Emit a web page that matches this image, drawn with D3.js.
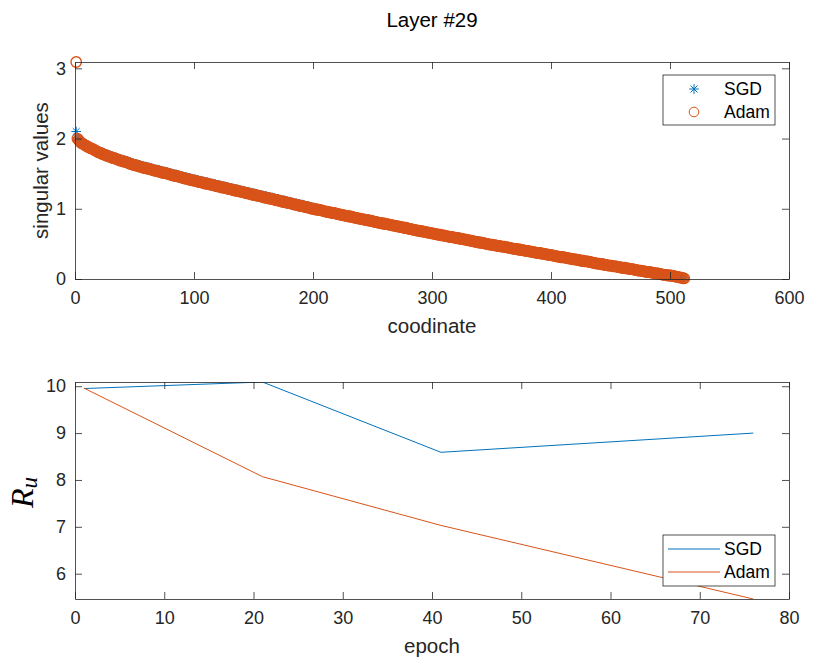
<!DOCTYPE html>
<html>
<head>
<meta charset="utf-8">
<script src="https://cdn.jsdelivr.net/npm/d3@7"></script>
<style>
  body { margin: 0; background: #fff; }
  text { font-family: "Liberation Sans", Arial, Helvetica, sans-serif; }
</style>
</head>
<body>
<script>
// ---- data ----
// singular values per coordinate 1..512
var sgdSv = [
  2.10,2.01,1.99,1.97,1.95,1.94,1.93,1.92,1.91,1.90,
  1.89,1.88,1.87,1.87,1.86,1.85,1.84,1.83,1.82,1.82,
  1.82,1.81,1.80,1.79,1.79,1.78,1.77,1.77,1.76,1.76,
  1.75,1.74,1.74,1.73,1.73,1.72,1.71,1.71,1.70,1.70,
  1.69,1.69,1.68,1.68,1.67,1.66,1.66,1.65,1.65,1.64,
  1.64,1.63,1.63,1.62,1.62,1.61,1.61,1.60,1.60,1.60,
  1.59,1.59,1.58,1.58,1.57,1.57,1.56,1.56,1.56,1.55,
  1.55,1.54,1.54,1.53,1.53,1.53,1.52,1.52,1.51,1.51,
  1.50,1.50,1.49,1.49,1.49,1.48,1.48,1.47,1.47,1.46,
  1.46,1.45,1.45,1.45,1.44,1.44,1.43,1.43,1.42,1.42,
  1.42,1.41,1.41,1.40,1.40,1.40,1.39,1.39,1.38,1.38,
  1.38,1.37,1.37,1.36,1.36,1.36,1.35,1.35,1.34,1.34,
  1.34,1.33,1.33,1.32,1.32,1.32,1.31,1.31,1.30,1.30,
  1.30,1.29,1.29,1.28,1.28,1.28,1.27,1.27,1.26,1.26,
  1.26,1.25,1.25,1.24,1.24,1.24,1.23,1.23,1.22,1.22,
  1.22,1.21,1.21,1.20,1.20,1.20,1.19,1.19,1.18,1.18,
  1.18,1.17,1.17,1.16,1.16,1.16,1.15,1.15,1.14,1.14,
  1.14,1.13,1.13,1.12,1.12,1.12,1.11,1.11,1.10,1.10,
  1.10,1.09,1.09,1.08,1.08,1.08,1.07,1.07,1.06,1.06,
  1.06,1.05,1.05,1.04,1.04,1.04,1.03,1.03,1.02,1.02,
  1.01,1.00,1.00,1.00,0.99,0.99,0.99,0.98,0.98,0.97,
  0.97,0.97,0.96,0.96,0.96,0.95,0.95,0.95,0.94,0.94,
  0.93,0.93,0.93,0.92,0.92,0.92,0.91,0.91,0.91,0.90,
  0.90,0.90,0.89,0.89,0.88,0.88,0.88,0.87,0.87,0.87,
  0.86,0.86,0.86,0.85,0.85,0.85,0.84,0.84,0.84,0.83,
  0.83,0.82,0.82,0.82,0.81,0.81,0.81,0.80,0.80,0.80,
  0.79,0.79,0.79,0.78,0.78,0.78,0.77,0.77,0.77,0.76,
  0.76,0.76,0.75,0.75,0.75,0.74,0.74,0.74,0.73,0.73,
  0.72,0.72,0.72,0.71,0.71,0.71,0.70,0.70,0.70,0.69,
  0.69,0.69,0.68,0.68,0.68,0.67,0.67,0.67,0.66,0.66,
  0.66,0.65,0.65,0.65,0.64,0.64,0.64,0.63,0.63,0.63,
  0.62,0.62,0.62,0.61,0.61,0.61,0.61,0.60,0.60,0.60,
  0.59,0.59,0.59,0.58,0.58,0.58,0.57,0.57,0.57,0.56,
  0.56,0.56,0.55,0.55,0.55,0.54,0.54,0.54,0.53,0.53,
  0.53,0.52,0.52,0.52,0.51,0.51,0.51,0.50,0.50,0.50,
  0.50,0.49,0.49,0.49,0.48,0.48,0.48,0.47,0.47,0.47,
  0.47,0.46,0.46,0.46,0.45,0.45,0.45,0.44,0.44,0.44,
  0.44,0.43,0.43,0.43,0.42,0.42,0.42,0.41,0.41,0.41,
  0.41,0.40,0.40,0.40,0.39,0.39,0.39,0.38,0.38,0.38,
  0.38,0.37,0.37,0.37,0.36,0.36,0.36,0.35,0.35,0.35,
  0.35,0.34,0.34,0.34,0.33,0.33,0.33,0.32,0.32,0.32,
  0.32,0.31,0.31,0.31,0.30,0.30,0.30,0.29,0.29,0.29,
  0.29,0.28,0.28,0.28,0.27,0.27,0.27,0.26,0.26,0.26,
  0.26,0.25,0.25,0.25,0.24,0.24,0.24,0.23,0.23,0.23,
  0.23,0.22,0.22,0.22,0.21,0.21,0.21,0.20,0.20,0.20,
  0.20,0.19,0.19,0.19,0.19,0.18,0.18,0.18,0.17,0.17,
  0.17,0.17,0.16,0.16,0.16,0.15,0.15,0.15,0.15,0.14,
  0.14,0.14,0.13,0.13,0.13,0.13,0.12,0.12,0.12,0.11,
  0.11,0.11,0.11,0.10,0.10,0.10,0.09,0.09,0.09,0.09,
  0.08,0.08,0.08,0.07,0.07,0.07,0.07,0.06,0.06,0.06,
  0.06,0.05,0.05,0.05,0.04,0.04,0.04,0.03,0.03,0.03,0.02,0.02
];
var adamSv = [
  3.09,2.00,1.98,1.96,1.94,1.93,1.92,1.91,1.90,1.89,
  1.88,1.87,1.86,1.86,1.85,1.84,1.83,1.82,1.81,1.80,
  1.80,1.79,1.78,1.77,1.77,1.76,1.75,1.75,1.74,1.74,
  1.73,1.72,1.72,1.71,1.71,1.70,1.69,1.69,1.68,1.68,
  1.67,1.67,1.66,1.66,1.65,1.64,1.64,1.63,1.63,1.62,
  1.62,1.61,1.61,1.60,1.60,1.59,1.59,1.58,1.58,1.58,
  1.57,1.57,1.56,1.56,1.55,1.55,1.54,1.54,1.54,1.53,
  1.53,1.52,1.52,1.51,1.51,1.51,1.50,1.50,1.49,1.49,
  1.48,1.48,1.47,1.47,1.47,1.46,1.46,1.45,1.45,1.44,
  1.44,1.43,1.43,1.43,1.42,1.42,1.41,1.41,1.40,1.40,
  1.40,1.39,1.39,1.38,1.38,1.38,1.37,1.37,1.36,1.36,
  1.36,1.35,1.35,1.34,1.34,1.34,1.33,1.33,1.32,1.32,
  1.32,1.31,1.31,1.30,1.30,1.30,1.29,1.29,1.28,1.28,
  1.28,1.27,1.27,1.26,1.26,1.26,1.25,1.25,1.24,1.24,
  1.24,1.23,1.23,1.22,1.22,1.22,1.21,1.21,1.20,1.20,
  1.20,1.19,1.19,1.18,1.18,1.18,1.17,1.17,1.16,1.16,
  1.16,1.15,1.15,1.14,1.14,1.14,1.13,1.13,1.12,1.12,
  1.12,1.11,1.11,1.10,1.10,1.10,1.09,1.09,1.08,1.08,
  1.08,1.07,1.07,1.06,1.06,1.06,1.05,1.05,1.04,1.04,
  1.04,1.03,1.03,1.02,1.02,1.02,1.01,1.01,1.00,1.00,
  1.00,0.99,0.99,0.99,0.98,0.98,0.98,0.97,0.97,0.96,
  0.96,0.96,0.95,0.95,0.95,0.94,0.94,0.94,0.93,0.93,
  0.92,0.92,0.92,0.91,0.91,0.91,0.90,0.90,0.90,0.89,
  0.89,0.89,0.88,0.88,0.87,0.87,0.87,0.86,0.86,0.86,
  0.85,0.85,0.85,0.84,0.84,0.84,0.83,0.83,0.83,0.82,
  0.82,0.81,0.81,0.81,0.80,0.80,0.80,0.79,0.79,0.79,
  0.78,0.78,0.78,0.77,0.77,0.77,0.76,0.76,0.76,0.75,
  0.75,0.75,0.74,0.74,0.74,0.73,0.73,0.73,0.72,0.72,
  0.71,0.71,0.71,0.70,0.70,0.70,0.69,0.69,0.69,0.68,
  0.68,0.68,0.67,0.67,0.67,0.66,0.66,0.66,0.65,0.65,
  0.65,0.64,0.64,0.64,0.63,0.63,0.63,0.62,0.62,0.62,
  0.61,0.61,0.61,0.60,0.60,0.60,0.60,0.59,0.59,0.59,
  0.58,0.58,0.58,0.57,0.57,0.57,0.56,0.56,0.56,0.55,
  0.55,0.55,0.54,0.54,0.54,0.53,0.53,0.53,0.52,0.52,
  0.52,0.51,0.51,0.51,0.50,0.50,0.50,0.49,0.49,0.49,
  0.49,0.48,0.48,0.48,0.47,0.47,0.47,0.46,0.46,0.46,
  0.46,0.45,0.45,0.45,0.44,0.44,0.44,0.43,0.43,0.43,
  0.43,0.42,0.42,0.42,0.41,0.41,0.41,0.40,0.40,0.40,
  0.40,0.39,0.39,0.39,0.38,0.38,0.38,0.37,0.37,0.37,
  0.37,0.36,0.36,0.36,0.35,0.35,0.35,0.34,0.34,0.34,
  0.34,0.33,0.33,0.33,0.32,0.32,0.32,0.31,0.31,0.31,
  0.31,0.30,0.30,0.30,0.29,0.29,0.29,0.28,0.28,0.28,
  0.28,0.27,0.27,0.27,0.26,0.26,0.26,0.25,0.25,0.25,
  0.25,0.24,0.24,0.24,0.23,0.23,0.23,0.22,0.22,0.22,
  0.22,0.21,0.21,0.21,0.20,0.20,0.20,0.19,0.19,0.19,
  0.19,0.18,0.18,0.18,0.18,0.17,0.17,0.17,0.16,0.16,
  0.16,0.16,0.15,0.15,0.15,0.14,0.14,0.14,0.14,0.13,
  0.13,0.13,0.12,0.12,0.12,0.12,0.11,0.11,0.11,0.10,
  0.10,0.10,0.10,0.09,0.09,0.09,0.08,0.08,0.08,0.08,
  0.07,0.07,0.07,0.06,0.06,0.06,0.06,0.05,0.05,0.05,
  0.05,0.04,0.04,0.04,0.03,0.03,0.03,0.02,0.02,0.02,0.01,0.01
];

// R_u per epoch
var epochs = [1, 21, 41, 76];
var sgdRu = [9.95, 10.09, 8.59, 9.00];
var adamRu = [9.96, 8.07, 7.03, 5.46];

var topXTicks = [0, 100, 200, 300, 400, 500, 600];
var topYTicks = [0, 1, 2, 3];
var botXTicks = [0, 10, 20, 30, 40, 50, 60, 70, 80];
var botYTicks = [6, 7, 8, 9, 10];
var seriesNames = ["SGD", "Adam"];

// ---- layout ----
var W = 830, H = 669;
var colSgd = "#0072BD", colAdam = "#D95319";
var axisCol = "#262626";
var plotL = 75, plotW = 714, plotH = 217;
var topT = 62, botT = 382;
var tickLen = 7;
var fmt = d3.format("~g");

var svg = d3.select("body").append("svg")
    .attr("width", W)
    .attr("height", H);

svg.append("text")
    .attr("x", plotL + plotW / 2)
    .attr("y", 27)
    .attr("text-anchor", "middle")
    .style("font-size", "20.5px")
    .style("fill", "#000")
    .text("Layer #29");

function drawFrame(g, x, y, xTicks, yTicks) {
    // mirrored ticks on top/right, like a boxed MATLAB axes
    g.append("g")
        .attr("transform", `translate(0,${plotH})`)
        .call(d3.axisBottom(x).tickValues(xTicks).tickFormat(fmt).tickSize(-tickLen).tickSizeOuter(0).tickPadding(12))
        .call(s => s.selectAll("text").style("font-size", "18px").style("fill", axisCol));
    g.append("g")
        .call(d3.axisLeft(y).tickValues(yTicks).tickFormat(fmt).tickSize(-tickLen).tickSizeOuter(0).tickPadding(9))
        .call(s => s.selectAll("text").style("font-size", "18px").style("fill", axisCol));
    g.append("g")
        .call(d3.axisTop(x).tickValues(xTicks).tickSize(-tickLen).tickSizeOuter(0).tickFormat(""));
    g.append("g")
        .attr("transform", `translate(${plotW},0)`)
        .call(d3.axisRight(y).tickValues(yTicks).tickSize(-tickLen).tickSizeOuter(0).tickFormat(""));
    g.selectAll(".domain, .tick line").attr("stroke", axisCol).attr("stroke-width", 0.8);
}

// ---- top panel: singular values ----
var gTop = svg.append("g").attr("transform", `translate(${plotL},${topT})`);
var xTop = d3.scaleLinear().domain([0, 600]).range([0, plotW]);
var yTop = d3.scaleLinear().domain([0, 3.09]).range([plotH, 0]);

function asterisk(sel, r) {
    var d = r * 0.72;
    var p = `M${-r},0L${r},0M0,${-r}L0,${r}M${-d},${-d}L${d},${d}M${-d},${d}L${d},${-d}`;
    sel.append("path").attr("d", p)
        .attr("fill", "none").attr("stroke", colSgd).attr("stroke-width", 1);
}

gTop.append("g").selectAll("g")
    .data(sgdSv)
    .enter().append("g")
    .attr("transform", (d, i) => `translate(${xTop(i + 1)},${yTop(d)})`)
    .each(function () { asterisk(d3.select(this), 4.8); });

gTop.append("g").selectAll("circle")
    .data(adamSv)
    .enter().append("circle")
    .attr("cx", (d, i) => xTop(i + 1))
    .attr("cy", d => yTop(d))
    .attr("r", 5.2)
    .attr("fill", "none")
    .attr("stroke", colAdam)
    .attr("stroke-width", 1.4);

drawFrame(gTop, xTop, yTop, topXTicks, topYTicks);

gTop.append("text")
    .attr("x", plotW / 2)
    .attr("y", plotH + 54)
    .attr("text-anchor", "middle")
    .style("font-size", "20.5px")
    .style("fill", axisCol)
    .text("coodinate");

gTop.append("text")
    .attr("transform", `translate(${48 - plotL},${plotH / 2}) rotate(-90)`)
    .attr("text-anchor", "middle")
    .style("font-size", "20.5px")
    .style("fill", axisCol)
    .text("singular values");

// legend (top)
var legTop = gTop.append("g").attr("transform", `translate(${plotW - 126},13)`);
legTop.append("rect")
    .attr("width", 112).attr("height", 50)
    .attr("fill", "#fff").attr("stroke", axisCol).attr("stroke-width", 0.8);
asterisk(legTop.append("g").attr("transform", "translate(31,14)"), 4.8);
legTop.append("circle")
    .attr("cx", 31).attr("cy", 37).attr("r", 4.8)
    .attr("fill", "none").attr("stroke", colAdam).attr("stroke-width", 1);
legTop.selectAll("text.lab")
    .data(seriesNames)
    .enter().append("text")
    .attr("class", "lab")
    .attr("x", 61)
    .attr("y", (d, i) => 14 + i * 23 + 6)
    .style("font-size", "17.5px")
    .style("fill", "#000")
    .text(d => d);

// ---- bottom panel: R_u vs epoch ----
var gBot = svg.append("g").attr("transform", `translate(${plotL},${botT})`);
var xBot = d3.scaleLinear().domain([0, 80]).range([0, plotW]);
var yBot = d3.scaleLinear().domain([5.46, 10.09]).range([plotH, 0]);

gBot.append("clipPath").attr("id", "clipBot")
    .append("rect").attr("width", plotW).attr("height", plotH);

var line = d3.line()
    .x((d, i) => xBot(epochs[i]))
    .y(d => yBot(d));

var lines = gBot.append("g").attr("clip-path", "url(#clipBot)");
lines.append("path").datum(sgdRu)
    .attr("d", line).attr("fill", "none").attr("stroke", colSgd).attr("stroke-width", 1);
lines.append("path").datum(adamRu)
    .attr("d", line).attr("fill", "none").attr("stroke", colAdam).attr("stroke-width", 1);

drawFrame(gBot, xBot, yBot, botXTicks, botYTicks);

gBot.append("text")
    .attr("x", plotW / 2)
    .attr("y", plotH + 54)
    .attr("text-anchor", "middle")
    .style("font-size", "20.5px")
    .style("fill", axisCol)
    .text("epoch");

var ru = gBot.append("text")
    .attr("transform", `translate(${33 - plotL},${plotH / 2 + 2}) rotate(-90)`)
    .attr("text-anchor", "middle")
    .style("font-family", "'Liberation Serif','DejaVu Serif',serif")
    .style("font-style", "italic")
    .style("fill", "#000");
ru.append("tspan").style("font-size", "32px").text("R");
ru.append("tspan").style("font-size", "23px").attr("dy", 4).text("u");

// legend (bottom)
var legBot = gBot.append("g").attr("transform", `translate(${plotW - 126},${plotH - 64})`);
legBot.append("rect")
    .attr("width", 112).attr("height", 51)
    .attr("fill", "#fff").attr("stroke", axisCol).attr("stroke-width", 0.8);
legBot.selectAll("line")
    .data([colSgd, colAdam])
    .enter().append("line")
    .attr("x1", 5).attr("x2", 57)
    .attr("y1", (d, i) => 14 + i * 23)
    .attr("y2", (d, i) => 14 + i * 23)
    .attr("stroke", d => d).attr("stroke-width", 1);
legBot.selectAll("text.lab")
    .data(seriesNames)
    .enter().append("text")
    .attr("class", "lab")
    .attr("x", 61)
    .attr("y", (d, i) => 14 + i * 23 + 6)
    .style("font-size", "17.5px")
    .style("fill", "#000")
    .text(d => d);
</script>
</body>
</html>
